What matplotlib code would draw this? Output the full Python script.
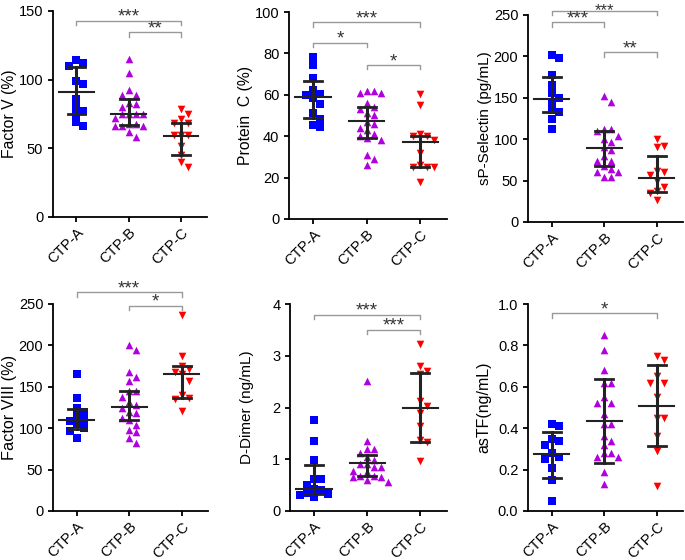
import numpy as np
import matplotlib.pyplot as plt

plt.rcParams['font.family'] = ['Liberation Sans', 'DejaVu Sans']

groups = ["CTP-A", "CTP-B", "CTP-C"]
colors = ["#0000ff", "#b000e0", "#ff0000"]
markers = ["s", "^", "v"]

# Factor V (%)
fv_a = [114, 112, 110, 99, 97, 86, 80, 77, 75, 69, 66]
fv_b = [115, 105, 92.5, 89, 89, 83, 82, 80, 75, 75, 75, 75, 72, 68, 68, 66, 66, 66, 62, 58.5]
fv_c = [78.5, 75, 71.5, 68.5, 68.5, 60, 60, 60, 52, 45.5, 40, 36.5]
fv_med = [90.8, 74.8, 59]
fv_lo = [75.2, 67, 45.1]
fv_hi = [109.5, 86, 68.2]

# Protein C (%)
pc_a = [78.4, 74.4, 68.3, 62.3, 60.2, 60, 58.3, 55.4, 51.4, 48.3, 45.4, 44.3]
pc_b = [62, 62, 61, 61, 56, 54, 53, 51, 50, 47, 46, 44, 43, 41, 40, 39, 38, 31, 29, 26]
pc_c = [60.5, 55, 41, 40, 40, 38, 32, 26, 25, 25, 25, 18]
pc_med = [59.1, 47.2, 37]
pc_lo = [49, 39, 25]
pc_hi = [66.8, 54.1, 40]

# sP-Selectin (pg/mL)
sp_a = [201.7, 198.5, 178, 165, 156, 150, 145, 135, 133, 124, 112]
sp_b = [152, 145, 112, 112, 110, 104, 100, 97, 91, 87, 80, 74, 74, 68, 64, 60, 60, 54, 54]
sp_c = [100, 92, 90, 62, 60, 57, 50, 42, 37, 35, 26]
sp_med = [148, 89.3, 53.5]
sp_lo = [132.5, 67.6, 35.8]
sp_hi = [175.5, 110.3, 80]

# Factor VIII (%)
f8_a = [165, 136, 125, 120, 115, 110, 109, 105, 100, 97, 88]
f8_b = [200, 195, 168, 162, 157, 145, 145, 138, 132, 128, 125, 120, 118, 112, 110, 104, 98, 95, 88, 82]
f8_c = [237, 187, 175, 172, 168, 165, 157, 140, 137, 135, 121]
f8_med = [109.7, 125.8, 166]
f8_lo = [98.8, 109.7, 136]
f8_hi = [123, 145, 175]

# D-Dimer (ng/mL)
dd_a = [1.75, 1.35, 0.98, 0.62, 0.62, 0.5, 0.42, 0.4, 0.35, 0.33, 0.3, 0.28]
dd_b = [2.52, 1.35, 1.2, 1.2, 1.12, 1.05, 0.98, 0.9, 0.9, 0.85, 0.85, 0.78, 0.75, 0.68, 0.68, 0.65, 0.65, 0.6, 0.56]
dd_c = [3.22, 2.8, 2.7, 2.65, 2.12, 2.02, 1.9, 1.65, 1.38, 1.33, 0.97]
dd_med = [0.43, 0.92, 2.0]
dd_lo = [0.32, 0.68, 1.34]
dd_hi = [0.88, 1.09, 2.66]

# asTF (ng/mL)
tf_a = [0.42, 0.41, 0.35, 0.34, 0.32, 0.28, 0.26, 0.25, 0.21, 0.15, 0.05]
tf_b = [0.85, 0.78, 0.68, 0.62, 0.62, 0.55, 0.52, 0.52, 0.47, 0.42, 0.42, 0.36, 0.34, 0.32, 0.28, 0.28, 0.26, 0.26, 0.19, 0.13]
tf_c = [0.75, 0.73, 0.65, 0.62, 0.62, 0.55, 0.45, 0.45, 0.36, 0.29, 0.12]
tf_med = [0.276, 0.435, 0.506]
tf_lo = [0.161, 0.232, 0.313]
tf_hi = [0.382, 0.639, 0.705]

panels = [
    dict(data=[fv_a, fv_b, fv_c], med=fv_med, lo=fv_lo, hi=fv_hi, ylabel="Factor V (%)", lsize=11.3,
         ymax=150, step=50, fmt="{:.0f}", sig=[(0, 2, 143, "***"), (1, 2, 134.5, "**")]),
    dict(data=[pc_a, pc_b, pc_c], med=pc_med, lo=pc_lo, hi=pc_hi, ylabel="Protein  C (%)", lsize=11.3,
         ymax=100, step=20, fmt="{:.0f}", sig=[(0, 2, 95, "***"), (0, 1, 85.2, "*"), (1, 2, 74.4, "*")]),
    dict(data=[sp_a, sp_b, sp_c], med=sp_med, lo=sp_lo, hi=sp_hi, ylabel="sP-Selectin (pg/mL)", lsize=11,
         ymax=250, step=50, fmt="{:.0f}", sig=[(0, 2, 255, "***"), (0, 1, 241, "***"), (1, 2, 205, "**")]),
    dict(data=[f8_a, f8_b, f8_c], med=f8_med, lo=f8_lo, hi=f8_hi, ylabel="Factor VIII (%)", lsize=11.7,
         ymax=250, step=50, fmt="{:.0f}", sig=[(0, 2, 264, "***"), (1, 2, 248, "*")]),
    dict(data=[dd_a, dd_b, dd_c], med=dd_med, lo=dd_lo, hi=dd_hi, ylabel="D-Dimer (ng/mL)", lsize=11,
         ymax=4, step=1, fmt="{:.0f}", sig=[(0, 2, 3.79, "***"), (1, 2, 3.5, "***")]),
    dict(data=[tf_a, tf_b, tf_c], med=tf_med, lo=tf_lo, hi=tf_hi, ylabel="asTF(ng/mL)", lsize=11.5,
         ymax=1.0, step=0.2, fmt="{:.1f}", sig=[(0, 2, 0.955, "*")]),
]

# axes rectangles in pixels: left, top, right, bottom; plus y-label right edge x
rects = [(53, 11, 207, 217), (289, 12, 447, 219), (528, 15, 683, 222),
         (53, 304, 208, 511), (290, 304, 447, 511), (528, 304, 683, 511)]
label_x = [17, 253, 492, 17, 254, 491]

W, H = 685, 560
fig = plt.figure(figsize=(W / 100, H / 100), dpi=100)

XMIN, XMAX = -0.45, 2.5


def swarm(vals, ppu_x, ppu_y, d=7.0):
    # simple beeswarm: place each point at the closest free slot
    vals = np.asarray(vals, float)
    order = np.argsort(-vals)
    placed = []
    offs = np.zeros(len(vals))
    for i in order:
        yp = vals[i] * ppu_y
        for k in [0, 1, -1, 2, -2, 3, -3, 4, -4, 5, -5]:
            xp = k * d
            if all((xp - px) ** 2 + (yp - py) ** 2 >= (d * 0.95) ** 2 for px, py in placed):
                break
        placed.append((xp, yp))
        offs[i] = xp / ppu_x
    return offs


for p, (l, t, r, b), lx in zip(panels, rects, label_x):
    ax = fig.add_axes([l / W, 1 - b / H, (r - l) / W, (b - t) / H])
    ax.set_xlim(XMIN, XMAX)
    ax.set_ylim(0, p["ymax"])
    ppu_x = (r - l) / (XMAX - XMIN)
    ppu_y = (b - t) / p["ymax"]

    for i, vals in enumerate(p["data"]):
        offs = swarm(vals, ppu_x, ppu_y)
        ax.scatter(i + offs, vals, marker=markers[i], s=30, color=colors[i],
                   linewidths=0, zorder=2, clip_on=False)
        # median with interquartile range
        ax.plot([i - 0.33, i + 0.33], [p["med"][i]] * 2, color="#222222", lw=1.5, zorder=3)
        ax.plot([i, i], [p["lo"][i], p["hi"][i]], color="#222222", lw=2.2, zorder=3)
        for yv in (p["lo"][i], p["hi"][i]):
            ax.plot([i - 0.17, i + 0.17], [yv, yv], color="#222222", lw=2, zorder=3)

    # significance brackets
    tick = 4.5 / ppu_y
    for g1, g2, yb, star in p["sig"]:
        ax.plot([g1, g1, g2, g2], [yb - tick, yb, yb, yb - tick], color="#999999",
                lw=1, clip_on=False)
        # keep the stars inside the figure when the bracket sits near the top edge
        star_px = t + (p["ymax"] - yb) * ppu_y - 3.5
        fs = 13.5
        if star_px < 11:
            star_px, fs = 10.5, 12
        ax.text((g1 + g2) / 2, p["ymax"] - (star_px - t) / ppu_y, star, ha="center",
                va="center", fontsize=fs, color="#333333", clip_on=False)

    ticks = np.arange(0, p["ymax"] + p["step"] / 2, p["step"])
    ax.set_yticks(ticks)
    ax.set_yticklabels([p["fmt"].format(v) for v in ticks], fontsize=10.5)
    ax.set_xticks(range(3))
    ax.set_xticklabels(groups, rotation=45, ha="right", rotation_mode="anchor", fontsize=10.5)
    ax.set_ylabel(p["ylabel"], fontsize=p["lsize"])
    ax.yaxis.set_label_coords((lx - l) / (r - l), 0.5)
    ax.spines["top"].set_visible(False)
    ax.spines["right"].set_visible(False)
    for s in ("left", "bottom"):
        ax.spines[s].set_linewidth(1.3)
    ax.tick_params(width=1.3, length=3.5, direction="out")
    ax.tick_params(axis="x", pad=2.5)

fig.savefig("out.png", dpi=100)
